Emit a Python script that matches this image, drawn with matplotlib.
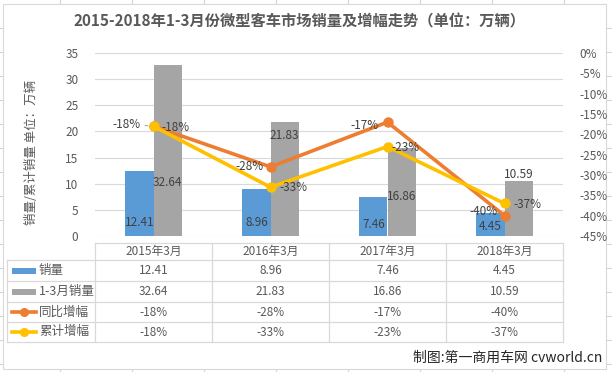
import matplotlib
matplotlib.use("Agg")
import matplotlib.pyplot as plt
from matplotlib.transforms import Affine2D, blended_transform_factory
from matplotlib.lines import Line2D
from matplotlib.patches import Rectangle
import numpy as np

plt.rcParams['font.family'] = ['Noto Sans CJK SC', 'DejaVu Sans']

# ---------------- data ----------------
categories = ["2015年3月", "2016年3月", "2017年3月", "2018年3月"]
sales = [12.41, 8.96, 7.46, 4.45]
cum_sales = [32.64, 21.83, 16.86, 10.59]
yoy = [-18, -28, -17, -40]
cum_growth = [-18, -33, -23, -37]
series_names = ["销量", "1-3月销量", "同比增幅", "累计增幅"]
left_ticks = [0, 5, 10, 15, 20, 25, 30, 35]
right_ticks = [0, -5, -10, -15, -20, -25, -30, -35, -40, -45]
title = "2015-2018年1-3月份微型客车市场销量及增幅走势（单位：万辆）"
ylabel = "销量/累计销量 单位：万辆"
credit = "制图:第一商用车网 cvworld.cn"

# label placement (manually arranged in the original chart)
gray_label_y = [10.3, 19.3, 7.5, 11.7]
blue_label_dy = [13, 13, 12, 9]
yoy_label_off = [(-26.5, 2), (-21, 0), (-22.5, -3), (-20.5, 4)]
cum_label_off = [(22.5, -1), (22.5, 0), (18, -1), (22.5, -1)]

C_BLUE = "#5B9BD5"
C_GRAY = "#A5A5A5"
C_ORANGE = "#ED7D31"
C_YELLOW = "#FFC000"
C_TXT = "#595959"
C_LBL = "#404040"
C_GRID = "#D9D9D9"

W, H = 612, 372
fig = plt.figure(figsize=(W / 100, H / 100), dpi=100)
fig.patch.set_facecolor("white")
px = Affine2D().scale(1 / W, -1 / H).translate(0, 1) + fig.transFigure

# spreadsheet background grid
for x in range(60, 612, 72):
    fig.add_artist(Line2D([x, x], [0, H], transform=px, color="#D4D4D4", lw=0.8, zorder=0))
for y in range(28, 372, 24):
    fig.add_artist(Line2D([0, W], [y, y], transform=px, color="#D4D4D4", lw=0.8, zorder=0))
fig.add_artist(Rectangle((3, 4), 603, 365, transform=px, facecolor="white",
                         edgecolor="#D9D9D9", lw=0.8, zorder=0.5))

# ---------------- main axes ----------------
L, R, T, B = 95, 563, 53, 236
ax = fig.add_axes([L / W, 1 - B / H, (R - L) / W, (B - T) / H])
ax.set_zorder(2)
ax.patch.set_alpha(0)
ax2 = ax.twinx()
ax2.set_zorder(3)
ax2.patch.set_alpha(0)

x = np.arange(len(categories))
bw = 0.24
ax.bar(x - bw / 2, sales, width=bw, color=C_BLUE, zorder=2)
ax.bar(x + bw / 2, cum_sales, width=bw, color=C_GRAY, zorder=2)
ax.set_xlim(-0.5, len(categories) - 0.5)
ax.set_ylim(0, 35)
ax.set_yticks(left_ticks)
ax.yaxis.grid(True, color=C_GRID, lw=0.8)
ax.set_axisbelow(True)
ax.set_xticks([])
for s in ax.spines.values():
    s.set_visible(False)
for s in ax2.spines.values():
    s.set_visible(False)
ax.tick_params(axis="y", length=0, pad=12, labelsize=8.5, labelcolor=C_TXT)

ax2.set_ylim(-45, 0)
ax2.set_yticks(right_ticks)
ax2.set_yticklabels([f"{t}%" for t in right_ticks])
ax2.tick_params(axis="y", length=0, pad=12, labelsize=8.5, labelcolor=C_TXT)
ax2.set_xticks([])

ax2.plot(x, yoy, color=C_ORANGE, lw=2.6, marker="o", ms=6.5, zorder=4,
         solid_capstyle="round")
ax2.plot(x, cum_growth, color=C_YELLOW, lw=2.6, marker="o", ms=6.5, zorder=5,
         solid_capstyle="round")

# data labels
for i in range(len(categories)):
    ax.annotate(f"{sales[i]:.2f}", (x[i] - bw / 2, 0), xytext=(0, blue_label_dy[i]),
                textcoords="offset pixels", ha="center", va="center",
                fontsize=8.5, color=C_LBL, zorder=6)
    ax.text(x[i] + bw / 2, gray_label_y[i], f"{cum_sales[i]:.2f}", ha="center",
            va="center", fontsize=8.5, color=C_LBL, zorder=6)
    ap = None
    if i == 0:
        ap = dict(arrowstyle="-", color="#A6A6A6", lw=0.8, shrinkA=1, shrinkB=4)
    ax2.annotate(f"{yoy[i]}%", (x[i], yoy[i]), xytext=yoy_label_off[i],
                 textcoords="offset pixels", ha="center", va="center",
                 fontsize=8.5, color=C_LBL, zorder=7, arrowprops=ap)
    ax2.annotate(f"{cum_growth[i]}%", (x[i], cum_growth[i]), xytext=cum_label_off[i],
                 textcoords="offset pixels", ha="center", va="center",
                 fontsize=8.5, color=C_LBL, zorder=7)

# title & y label
fig.text(300 / W, 1 - 21 / H, title, ha="center", va="center", fontsize=11,
         fontweight="bold", color=C_TXT)
fig.text(32 / W, 1 - 152 / H, ylabel, ha="center", va="center", rotation=90,
         fontsize=9, color=C_TXT)

# ---------------- data table ----------------
tt = blended_transform_factory(ax.transData, px)
rows = [243, 260, 281, 302, 322, 342]
xl = -0.5 - (L - 7) / ((R - L) / len(categories))  # left edge of table in data coords
xr = len(categories) - 0.5
lkw = dict(color=C_GRID, lw=0.9, zorder=3)
# header row
fig.add_artist(Line2D([-0.5, xr], [rows[0], rows[0]], transform=tt, **lkw))
for r in rows[1:]:
    fig.add_artist(Line2D([xl, xr], [r, r], transform=tt, **lkw))
fig.add_artist(Line2D([xl, xl], [rows[1], rows[-1]], transform=tt, **lkw))
for k in range(len(categories) + 1):
    xx = -0.5 + k
    fig.add_artist(Line2D([xx, xx], [rows[0], rows[-1]], transform=tt, **lkw))

for i, c in enumerate(categories):
    fig.text(x[i], (rows[0] + rows[1]) / 2, c, transform=tt, ha="center",
             va="center", fontsize=8.5, color=C_TXT)
row_vals = [
    [f"{v:.2f}" for v in sales],
    [f"{v:.2f}" for v in cum_sales],
    [f"{v}%" for v in yoy],
    [f"{v}%" for v in cum_growth],
]
for r in range(4):
    yc = (rows[r + 1] + rows[r + 2]) / 2
    for i in range(len(categories)):
        fig.text(x[i], yc, row_vals[r][i], transform=tt, ha="center", va="center",
                 fontsize=8.5, color=C_TXT)
    fig.text(39 / W, 1 - yc / H, series_names[r], ha="left", va="center",
             fontsize=9, color=C_TXT)
    if r < 2:
        col = C_BLUE if r == 0 else C_GRAY
        fig.add_artist(Rectangle((12, yc - 3), 24, 6, transform=px, facecolor=col,
                                 edgecolor="none", zorder=3))
    else:
        col = C_ORANGE if r == 2 else C_YELLOW
        fig.add_artist(Line2D([12, 36], [yc, yc], transform=px, color=col, lw=2.6,
                              zorder=3))
        fig.add_artist(Line2D([24], [yc], transform=px, color=col, marker="o",
                              ms=5.5, zorder=4))

fig.text(602 / W, 1 - 358 / H, credit, ha="right", va="center", fontsize=10,
         color="#262626")

fig.savefig("out.png", dpi=100)
